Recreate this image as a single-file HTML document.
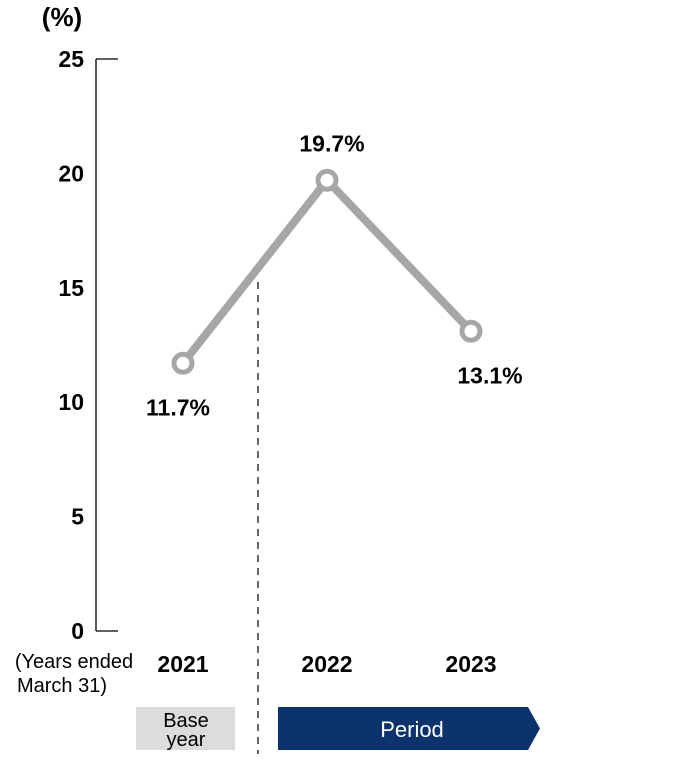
<!DOCTYPE html>
<html><head><meta charset="utf-8"><style>
body{margin:0;background:#fff;}
svg text{font-family:"Liberation Sans",Arial,sans-serif;}
</style></head><body>
<svg width="690" height="754" viewBox="0 0 690 754" id="chart">
<text x="62" y="26" font-size="26" font-weight="bold" text-anchor="middle">(%)</text>
<g id="axis"></g>
<line x1="258" y1="282" x2="258" y2="754" stroke="#000" stroke-width="1.2" stroke-dasharray="7,6"/>
<g id="plot"></g>
<text x="58" y="668" font-size="20" text-anchor="middle"><tspan x="74" y="668">(Years ended</tspan><tspan x="62" y="692">March 31)</tspan></text>
<rect x="136" y="707" width="99" height="43" fill="#dcdcdc"/>
<text x="186" y="727" font-size="20" text-anchor="middle"><tspan x="186" y="727">Base</tspan><tspan x="186" y="746">year</tspan></text>
<polygon points="278,707 528,707 540,728.5 528,750 278,750" fill="#0d336c"/>
<text x="412" y="737" font-size="22" fill="#fff" text-anchor="middle">Period</text>
</svg>
<script>
const categories = ["2021","2022","2023"];
const values = [11.7,19.7,13.1];
const valueLabels = ["11.7%","19.7%","13.1%"];
const yTicks = [0,5,10,15,20,25];
const NS="http://www.w3.org/2000/svg";
const yScale=v=>631-v*(572/25);
const xScale=i=>183+i*144;
function mk(tag,attrs,parent,text){const e=document.createElementNS(NS,tag);for(const k in attrs)e.setAttribute(k,attrs[k]);if(text!==undefined)e.textContent=text;parent.appendChild(e);return e;}
const axis=document.getElementById('axis'), plot=document.getElementById('plot');
const al=mk('line',{x1:96,y1:yScale(25),x2:96,y2:yScale(0),stroke:'#000','stroke-width':1.3},axis);


const t1=mk('line',{x1:96,y1:yScale(25),x2:118,y2:yScale(25),stroke:'#000','stroke-width':1.3},axis);


const t0=mk('line',{x1:96,y1:yScale(0),x2:118,y2:yScale(0),stroke:'#000','stroke-width':1.3},axis);


yTicks.forEach(v=>{const t=mk('text',{x:84,y:yScale(v)+8,'font-size':23,'font-weight':'bold','text-anchor':'end'},axis,String(v));

});
categories.forEach((c,i)=>{const t=mk('text',{x:xScale(i),y:672,'font-size':23,'font-weight':'bold','text-anchor':'middle'},plot,c);

});
const pts=values.map((v,i)=>xScale(i)+','+yScale(v)).join(' ');
const line=mk('polyline',{points:pts,fill:'none',stroke:'#a6a6a6','stroke-width':8,'stroke-linejoin':'miter'},plot);


values.forEach((v,i)=>{const c=mk('circle',{cx:xScale(i),cy:yScale(v),r:9,fill:'#fff',stroke:'#a6a6a6','stroke-width':5},plot);


const above = i>0 && v>=values[i-1] && (i===values.length-1 || v>=values[i+1]);
const ly = above ? yScale(v)-29 : yScale(v)+52;
const t=mk('text',{x:xScale(i)+(i===0?-5:(above?5:19)),y:ly,'font-size':23,'font-weight':'bold','text-anchor':'middle'},plot,valueLabels[i]);

});
</script>
</body></html>
